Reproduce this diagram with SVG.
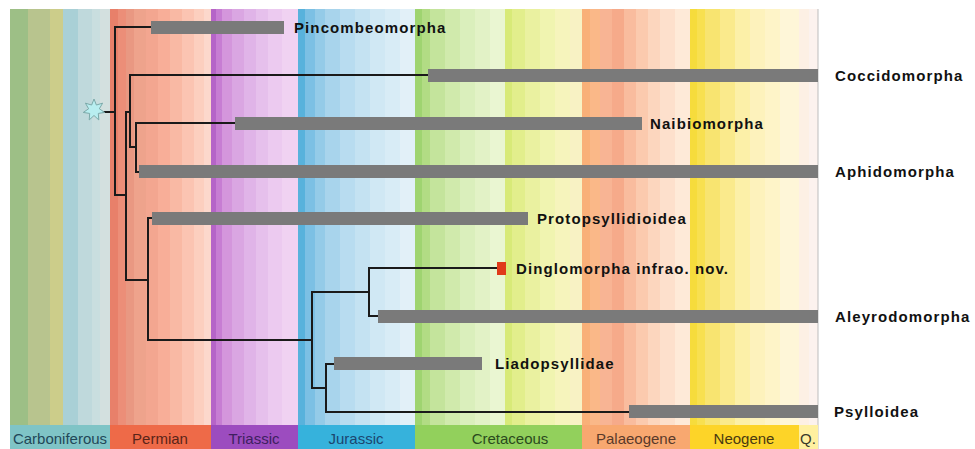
<svg xmlns="http://www.w3.org/2000/svg" width="975" height="449" viewBox="0 0 975 449">
<style>
.lbl{font-family:"Liberation Sans",Arial,sans-serif;font-weight:bold;font-size:15px;letter-spacing:1.1px;fill:#111}
.per{font-family:"Liberation Sans",Arial,sans-serif;font-size:15px;text-anchor:middle}
.bar{fill:#7a7a7a}
.edge{stroke:#1a1a1a;stroke-width:2;fill:none;stroke-linecap:square}
</style>
<rect width="975" height="449" fill="#ffffff"/>
<g id="background">
<rect x="10" y="9" width="18" height="416" fill="#9dbf86"/>
<rect x="28" y="9" width="22" height="416" fill="#b8c48e"/>
<rect x="50" y="9" width="13" height="416" fill="#cccd8a"/>
<rect x="63" y="9" width="15" height="416" fill="#a9d0d6"/>
<rect x="78" y="9" width="14" height="416" fill="#bfd9dc"/>
<rect x="92" y="9" width="8" height="416" fill="#c9dedf"/>
<rect x="100" y="9" width="10" height="416" fill="#d3e0df"/>
<rect x="110" y="9" width="8" height="416" fill="#e8806a"/>
<rect x="118" y="9" width="8" height="416" fill="#ec8e78"/>
<rect x="126" y="9" width="8" height="416" fill="#e99882"/>
<rect x="134" y="9" width="12" height="416" fill="#eea38c"/>
<rect x="146" y="9" width="12" height="416" fill="#f3a690"/>
<rect x="158" y="9" width="12" height="416" fill="#f8ae98"/>
<rect x="170" y="9" width="12" height="416" fill="#f9b9a4"/>
<rect x="182" y="9" width="12" height="416" fill="#fbc4b2"/>
<rect x="194" y="9" width="10" height="416" fill="#fccfbf"/>
<rect x="204" y="9" width="7" height="416" fill="#fcd8cc"/>
<rect x="211" y="9" width="5" height="416" fill="#b564c8"/>
<rect x="216" y="9" width="6" height="416" fill="#c77dd3"/>
<rect x="222" y="9" width="10" height="416" fill="#d496dc"/>
<rect x="232" y="9" width="12" height="416" fill="#daa6e2"/>
<rect x="244" y="9" width="12" height="416" fill="#e0b4e8"/>
<rect x="256" y="9" width="12" height="416" fill="#e6c0ec"/>
<rect x="268" y="9" width="14" height="416" fill="#eccaf0"/>
<rect x="282" y="9" width="16" height="416" fill="#f0d2f2"/>
<rect x="298" y="9" width="7" height="416" fill="#58b2dc"/>
<rect x="305" y="9" width="10" height="416" fill="#7cc0e4"/>
<rect x="315" y="9" width="10" height="416" fill="#94cbe8"/>
<rect x="325" y="9" width="15" height="416" fill="#a8d4ec"/>
<rect x="340" y="9" width="15" height="416" fill="#b8dcf0"/>
<rect x="355" y="9" width="15" height="416" fill="#c4e2f2"/>
<rect x="370" y="9" width="15" height="416" fill="#d0e8f4"/>
<rect x="385" y="9" width="15" height="416" fill="#d8ecf6"/>
<rect x="400" y="9" width="15" height="416" fill="#e2f0f8"/>
<rect x="415" y="9" width="7" height="416" fill="#9fd470"/>
<rect x="422" y="9" width="8" height="416" fill="#b2dc84"/>
<rect x="430" y="9" width="15" height="416" fill="#c4e49c"/>
<rect x="445" y="9" width="15" height="416" fill="#d0eaac"/>
<rect x="460" y="9" width="15" height="416" fill="#daefbc"/>
<rect x="475" y="9" width="15" height="416" fill="#e2f2c6"/>
<rect x="490" y="9" width="15" height="416" fill="#eaf6d2"/>
<rect x="505" y="9" width="7" height="416" fill="#d8ea78"/>
<rect x="512" y="9" width="13" height="416" fill="#e2ee8c"/>
<rect x="525" y="9" width="15" height="416" fill="#eaf1a0"/>
<rect x="540" y="9" width="15" height="416" fill="#f0f4b0"/>
<rect x="555" y="9" width="15" height="416" fill="#f6f4bc"/>
<rect x="570" y="9" width="12" height="416" fill="#f8f2c4"/>
<rect x="582" y="9" width="8" height="416" fill="#f9b078"/>
<rect x="590" y="9" width="10" height="416" fill="#fab888"/>
<rect x="600" y="9" width="12" height="416" fill="#f8b494"/>
<rect x="612" y="9" width="12" height="416" fill="#f6aa8a"/>
<rect x="624" y="9" width="12" height="416" fill="#f9bc9e"/>
<rect x="636" y="9" width="12" height="416" fill="#fbcaae"/>
<rect x="648" y="9" width="12" height="416" fill="#fcd6be"/>
<rect x="660" y="9" width="15" height="416" fill="#fde0cc"/>
<rect x="675" y="9" width="15" height="416" fill="#feead8"/>
<rect x="690" y="9" width="7" height="416" fill="#f6dc3c"/>
<rect x="697" y="9" width="8" height="416" fill="#f8e050"/>
<rect x="705" y="9" width="15" height="416" fill="#f8e470"/>
<rect x="720" y="9" width="15" height="416" fill="#faea8c"/>
<rect x="735" y="9" width="15" height="416" fill="#fcf0a8"/>
<rect x="750" y="9" width="15" height="416" fill="#fdf2bc"/>
<rect x="765" y="9" width="15" height="416" fill="#fef4c8"/>
<rect x="780" y="9" width="19" height="416" fill="#fef6d8"/>
<rect x="799" y="9" width="10" height="416" fill="#fdf0e4"/>
<rect x="809" y="9" width="9" height="416" fill="#fcf2ee"/>
<line x1="818" y1="9" x2="818" y2="449" stroke="#bdbdbd" stroke-width="1"/>
</g>
<g id="timescale">
<rect x="10" y="425" width="100" height="24" fill="#7fc4c6"/>
<rect x="110" y="425" width="101" height="24" fill="#ee6a48"/>
<rect x="211" y="425" width="87" height="24" fill="#9c4cbf"/>
<rect x="298" y="425" width="117" height="24" fill="#36b2dc"/>
<rect x="415" y="425" width="167" height="24" fill="#92d05c"/>
<rect x="582" y="425" width="108" height="24" fill="#f8a870"/>
<rect x="690" y="425" width="109" height="24" fill="#fdd428"/>
<rect x="799" y="425" width="19" height="24" fill="#fff0a0"/>
<text class="per" x="60" y="444" fill="#1f4858">Carboniferous</text>
<text class="per" x="160" y="444" fill="#5a2418">Permian</text>
<text class="per" x="254" y="444" fill="#3e2060">Triassic</text>
<text class="per" x="356" y="444" fill="#1c4670">Jurassic</text>
<text class="per" x="510" y="444" fill="#2a4a1c">Cretaceous</text>
<text class="per" x="636" y="444" fill="#5a3a2a">Palaeogene</text>
<text class="per" x="744" y="444" fill="#4a3a10">Neogene</text>
<text class="per" x="808" y="444" fill="#3a3a2a">Q.</text>
</g>
<g id="connectors">
<path class="edge" d="M103,112 H115 M115,27 V195 M115,27 H151 M115,195 H126"/>
<path class="edge" d="M126,112 V280 M126,112 H130 M126,280 H148"/>
<path class="edge" d="M130,75 V147 M130,75 H428 M130,147 H136"/>
<path class="edge" d="M136,123 V172 M136,123 H235 M136,172 H139"/>
<path class="edge" d="M148,218 V340 M148,218 H152 M148,340 H312"/>
<path class="edge" d="M312,292 V388 M312,292 H369 M312,388 H326"/>
<path class="edge" d="M369,268 V316 M369,268 H497 M369,316 H378"/>
<path class="edge" d="M326,364 V412 M326,364 H334 M326,412 H629"/>
</g>
<g id="root">
<polygon transform="translate(94,110) scale(1.1)" points="0,-10 2.17,-4.51 7.82,-6.23 4.87,-1.11 9.75,2.23 3.91,3.12 4.34,9.01 0,5 -4.34,9.01 -3.91,3.12 -9.75,2.23 -4.87,-1.11 -7.82,-6.23 -2.17,-4.51" fill="#b8eef0" stroke="#7aa8a8" stroke-width="0.9"/>
</g>
<g id="pincombeomorpha">
<rect class="bar" x="151" y="21" width="133" height="13"/>
<text class="lbl" x="294" y="33">Pincombeomorpha</text>
</g>
<g id="coccidomorpha">
<rect class="bar" x="428" y="69" width="390" height="13"/>
<text class="lbl" x="835" y="81">Coccidomorpha</text>
</g>
<g id="naibiomorpha">
<rect class="bar" x="235" y="117" width="407" height="13"/>
<text class="lbl" x="650" y="129">Naibiomorpha</text>
</g>
<g id="aphidomorpha">
<rect class="bar" x="139" y="165" width="679" height="13"/>
<text class="lbl" x="835" y="177">Aphidomorpha</text>
</g>
<g id="protopsyllidioidea">
<rect class="bar" x="152" y="212" width="376" height="13"/>
<text class="lbl" x="537" y="224">Protopsyllidioidea</text>
</g>
<g id="dinglomorpha">
<rect x="497" y="262" width="9" height="13" fill="#e03a1a"/>
<text class="lbl" x="516" y="274">Dinglomorpha infrao. nov.</text>
</g>
<g id="aleyrodomorpha">
<rect class="bar" x="378" y="310" width="440" height="13"/>
<text class="lbl" x="835" y="322">Aleyrodomorpha</text>
</g>
<g id="liadopsyllidae">
<rect class="bar" x="334" y="357" width="148" height="13"/>
<text class="lbl" x="495" y="369">Liadopsyllidae</text>
</g>
<g id="psylloidea">
<rect class="bar" x="629" y="405" width="189" height="13"/>
<text class="lbl" x="834" y="417">Psylloidea</text>
</g>
</svg>
